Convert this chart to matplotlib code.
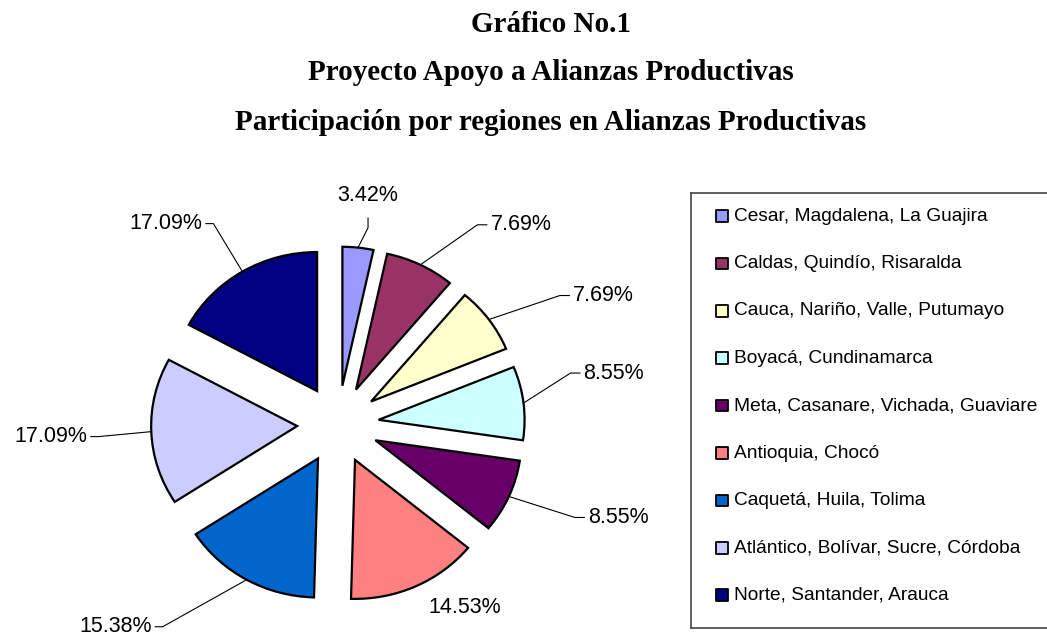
import numpy as np
import matplotlib.pyplot as plt

# data
regiones = ['Cesar, Magdalena, La Guajira', 'Caldas, Quindío, Risaralda',
            'Cauca, Nariño, Valle, Putumayo', 'Boyacá, Cundinamarca',
            'Meta, Casanare, Vichada, Guaviare', 'Antioquia, Chocó',
            'Caquetá, Huila, Tolima', 'Atlántico, Bolívar, Sucre, Córdoba',
            'Norte, Santander, Arauca']
porcentajes = [3.42, 7.69, 7.69, 8.55, 8.55, 14.53, 15.38, 17.09, 17.09]
colores = ['#9999FF', '#993366', '#FFFFCC', '#CCFFFF', '#660066',
           '#FF8080', '#0066CC', '#CCCCFF', '#000080']

titulos = ['Gráfico No.1', 'Proyecto Apoyo a Alianzas Productivas',
           'Participación por regiones en Alianzas Productivas']

W, H = 1047, 638
fig = plt.figure(figsize=(W / 100, H / 100), dpi=100)

# title lines
for t, ypx in zip(titulos, [25, 73, 122]):
    fig.text(551 / W, 1 - ypx / H, t, ha='center', va='center',
             family='Liberation Serif', weight='bold', fontsize=21)

# pie axes (slightly wider than tall, like the original)
sx, sy = 146, 139          # pixels per unit radius
cx, cy = 338, 424.5        # pie centre in pixels
lim = 2.2
ax = fig.add_axes([(cx - lim * sx) / W, 1 - (cy + lim * sy) / H,
                   2 * lim * sx / W, 2 * lim * sy / H])
explode = 0.28
wedges, _ = ax.pie(porcentajes, colors=colores, startangle=90, counterclock=False,
                   explode=[explode] * len(porcentajes),
                   wedgeprops=dict(edgecolor='black', linewidth=1.6))
ax.set_aspect('auto')
ax.set_xlim(-lim, lim)
ax.set_ylim(-lim, lim)
ax.axis('off')

# label offsets in pixels (text anchor relative to slice arc midpoint), alignment, leader
lab_off = [(10, -52, 'center', True), (70, -40, 'left', True), (84, -24, 'left', True),
           (60, -30, 'left', True), (79, 21, 'left', True), (49, 21, 'center', False),
           (-95, 47, 'right', True), (-64, 5, 'right', True), (-40, -48, 'right', True)]

for w, val, (dx, dy, ha, leader) in zip(wedges, porcentajes, lab_off):
    ang = np.deg2rad((w.theta1 + w.theta2) / 2)
    axp = (1 + explode) * np.cos(ang)
    ayp = (1 + explode) * np.sin(ang)
    tx = axp + dx / sx
    ty = ayp - dy / sy
    ax.text(tx, ty, f'{val:.2f}%', ha=ha, va='center', fontsize=15.5,
            family='Liberation Sans', color='black')
    if not leader:
        continue
    if ha == 'left':
        stub = (tx - 3 / sx, ty)
        elbow = (tx - 13 / sx, ty)
    elif ha == 'right':
        stub = (tx + 3 / sx, ty)
        elbow = (tx + 11 / sx, ty)
    else:
        stub = (tx, ty - 22 / sy)
        elbow = (tx, ty - 32 / sy)
    ax.plot([axp, elbow[0], stub[0]], [ayp, elbow[1], stub[1]],
            color='black', lw=0.8, solid_capstyle='butt')

# legend box
lx0, ly0, lx1, ly1 = 691, 193, 1071, 628
ax_leg = fig.add_axes([lx0 / W, 1 - ly1 / H, (lx1 - lx0) / W, (ly1 - ly0) / H])
ax_leg.set_xlim(0, lx1 - lx0)
row_px = 47.4
ax_leg.set_ylim((ly1 - 216) / row_px, -(216 - ly0) / row_px)
ax_leg.set_xticks([])
ax_leg.set_yticks([])
for s in ax_leg.spines.values():
    s.set_color('#444444')
    s.set_linewidth(1.2)
filas = list(range(len(regiones)))
ax_leg.scatter([31] * len(filas), filas, marker='s', s=72, c=colores,
               edgecolors='black', linewidths=1.3)
for i, r in zip(filas, regiones):
    ax_leg.text(43, i, r, ha='left', va='center', fontsize=13.8,
                family='Liberation Sans')

fig.savefig('out.png', dpi=100)
